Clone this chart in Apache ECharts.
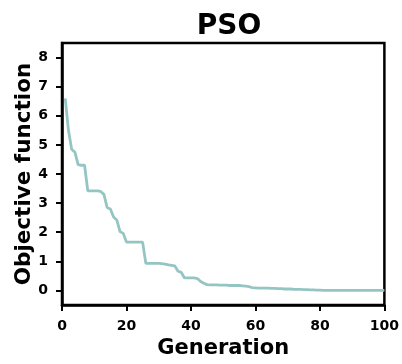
<!DOCTYPE html>
<html>
<head>
<meta charset="utf-8">
<script src="https://cdn.jsdelivr.net/npm/echarts@6/dist/echarts.min.js"></script>
<style>html,body{margin:0;padding:0;background:#fff}#c{width:402px;height:364px}</style>
</head>
<body>
<div id="c"></div>
<script>
const generations = [];
for (let g = 1; g <= 100; g++) generations.push(g);
const objectiveValues = [
  6.60, 5.50, 4.85, 4.75, 4.32, 4.30, 4.30, 3.42, 3.42, 3.42,
  3.42, 3.40, 3.30, 2.85, 2.80, 2.52, 2.42, 2.02, 1.96, 1.66,
  1.66, 1.66, 1.66, 1.66, 1.66, 0.93, 0.93, 0.93, 0.93, 0.93,
  0.92, 0.90, 0.88, 0.86, 0.84, 0.66, 0.62, 0.43, 0.43, 0.43,
  0.43, 0.41, 0.31, 0.25, 0.20, 0.19, 0.19, 0.19, 0.18, 0.18,
  0.18, 0.17, 0.17, 0.17, 0.17, 0.16, 0.15, 0.13, 0.10, 0.09,
  0.08, 0.08, 0.08, 0.08, 0.07, 0.07, 0.06, 0.06, 0.05, 0.05,
  0.05, 0.04, 0.04, 0.04, 0.03, 0.03, 0.02, 0.02, 0.01, 0.01,
  0.005, 0.005, 0.005, 0.005, 0.005, 0.005, 0.005, 0.005, 0.005, 0.005,
  0.005, 0.005, 0.005, 0.005, 0.005, 0.005, 0.005, 0.005, 0.005, 0.005
];
const yTicks = [0, 1, 2, 3, 4, 5, 6, 7, 8];
const xTicks = [0, 20, 40, 60, 80, 100];
const titleText = 'PSO';
const xName = 'Generation';
const yName = 'Objective function';

const FONT = 'DejaVu Sans';
const chart = echarts.init(document.getElementById('c'), null, {renderer: 'canvas'});
chart.setOption({
  animation: false,
  backgroundColor: '#fff',
  title: {
    text: titleText, left: 224, top: 8, textAlign: 'center',
    textStyle: {fontFamily: FONT, fontWeight: 'bold', fontSize: 28, color: '#000'}
  },
  grid: {left: 62, right: 15, top: 43, bottom: 57, show: true, borderColor: '#000', borderWidth: 2.5, backgroundColor: 'transparent'},
  xAxis: {
    type: 'value', min: 0, max: 100,
    name: xName, nameLocation: 'middle', nameGap: 33, nameMoveOverlap: false,
    nameTextStyle: {fontFamily: FONT, fontWeight: 'bold', fontSize: 21, color: '#000'},
    axisLine: {show: true, onZero: false, lineStyle: {color: '#000', width: 2.5}},
    axisTick: {show: true, inside: false, length: 6, lineStyle: {color: '#000', width: 2}, customValues: xTicks},
    axisLabel: {customValues: xTicks, margin: 14, fontFamily: FONT, fontWeight: 'bold', fontSize: 14, color: '#000'},
    splitLine: {show: false}
  },
  yAxis: {
    type: 'value', min: -0.5, max: 8.5,
    name: yName, nameLocation: 'middle', nameGap: 27, nameRotate: 90, nameMoveOverlap: false,
    nameTextStyle: {fontFamily: FONT, fontWeight: 'bold', fontSize: 21.5, color: '#000'},
    axisLine: {show: true, onZero: false, lineStyle: {color: '#000', width: 2.5}},
    axisTick: {show: true, inside: false, length: 6, lineStyle: {color: '#000', width: 2}, customValues: yTicks},
    axisLabel: {customValues: yTicks, margin: 14, fontFamily: FONT, fontWeight: 'bold', fontSize: 14, color: '#000'},
    splitLine: {show: false}
  },
  series: [{
    type: 'line',
    data: generations.map((g, i) => [g, objectiveValues[i]]),
    showSymbol: false,
    lineStyle: {color: '#95c5c3', width: 2.8},
    itemStyle: {color: '#95c5c3'}
  }]
});
</script>
</body>
</html>
